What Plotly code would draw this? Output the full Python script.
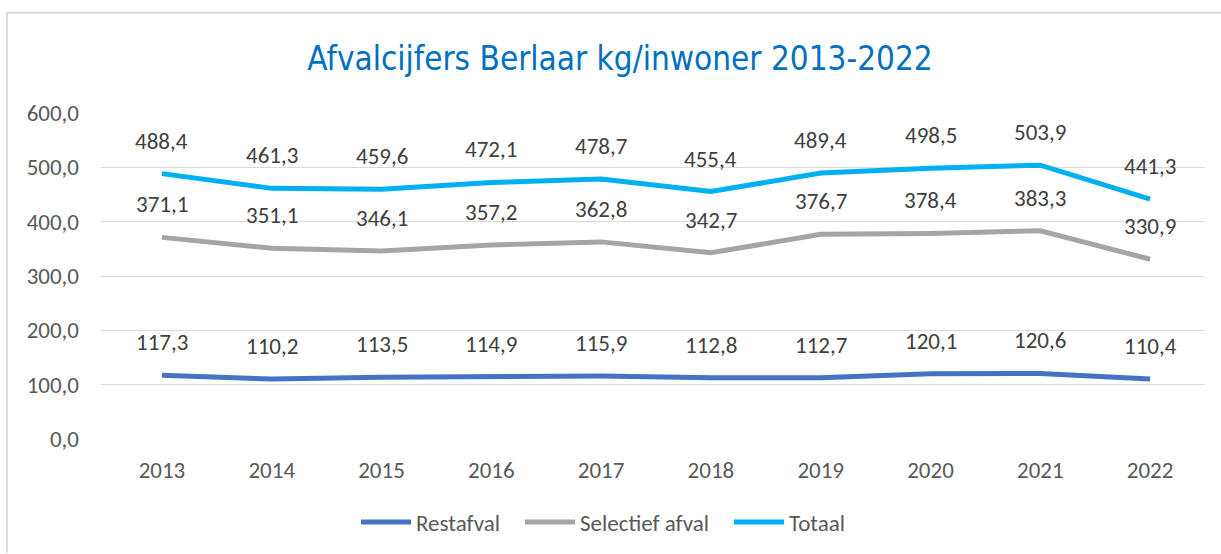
import plotly.graph_objects as go

years = ["2013", "2014", "2015", "2016", "2017", "2018", "2019", "2020", "2021", "2022"]
restafval = [117.3, 110.2, 113.5, 114.9, 115.9, 112.8, 112.7, 120.1, 120.6, 110.4]
selectief = [371.1, 351.1, 346.1, 357.2, 362.8, 342.7, 376.7, 378.4, 383.3, 330.9]
totaal = [488.4, 461.3, 459.6, 472.1, 478.7, 455.4, 489.4, 498.5, 503.9, 441.3]

series = [
    ("Restafval", restafval, "#4472C4"),
    ("Selectief afval", selectief, "#A5A5A5"),
    ("Totaal", totaal, "#00B0F0"),
]

W, H = 1221, 554
L, R, T, B = 101, 16, 113, 114
pw, ph = W - L - R, H - T - B
FONT = "Carlito, Calibri, Lato, Liberation Sans, sans-serif"

legend_names = ["legend", "legend2", "legend3"]
legend_starts = [366, 530, 739]  # pixel x where each legend line begins

fig = go.Figure()
for (name, vals, col), lg in zip(series, legend_names):
    fig.add_trace(go.Scatter(
        x=years, y=vals, name=name, mode="lines", legend=lg,
        line=dict(color=col, width=5, shape="linear"),
    ))
    for i, v in enumerate(vals):
        fig.add_annotation(
            x=i, y=v, xref="x", yref="y", text=f"{v:.1f}".replace(".", ","),
            showarrow=False, yshift=33, yanchor="middle", xanchor="center",
            font=dict(family=FONT, size=23, color="#404040"),
        )

# chart area border (top and left)
fig.add_shape(type="line", xref="paper", yref="paper",
              x0=(7 - L) / pw, x1=(W - L) / pw,
              y0=(H - B - 12.5) / ph, y1=(H - B - 12.5) / ph,
              line=dict(color="#D9D9D9", width=2), layer="below")
fig.add_shape(type="line", xref="paper", yref="paper",
              x0=(7 - L) / pw, x1=(7 - L) / pw,
              y0=(H - B - 12.5) / ph, y1=(H - B - H) / ph,
              line=dict(color="#D9D9D9", width=2), layer="below")

legend_common = dict(
    orientation="h", yanchor="middle", y=-(522 - (H - B)) / ph, xanchor="left",
    font=dict(family=FONT, size=23, color="#595959"),
    itemwidth=50, bgcolor="rgba(0,0,0,0)", borderwidth=0,
)
legends = {}
for lg, sx in zip(legend_names, legend_starts):
    legends[lg] = dict(legend_common, x=(sx - L - 10) / pw)

fig.update_layout(
    width=W, height=H,
    margin=dict(l=L, r=R, t=T, b=B, pad=0),
    paper_bgcolor="white", plot_bgcolor="white",
    separators=",.",
    title=dict(
        text="Afvalcijfers Berlaar kg/inwoner 2013-2022",
        x=620 / W, xanchor="center", y=1 - 58 / H, yanchor="middle",
        font=dict(family="DejaVu Sans Condensed, Liberation Sans Narrow, Roboto, sans-serif",
                  size=33, color="#0070C0", weight=500),
    ),
    xaxis=dict(
        type="category", range=[-0.555, 9.5],
        showgrid=False, zeroline=False, showline=False,
        ticks="", ticklabelstandoff=15,
        tickfont=dict(family=FONT, size=23, color="#595959"),
        fixedrange=True,
    ),
    yaxis=dict(
        range=[0, 600], dtick=100, tickformat=".1f",
        showgrid=True, gridcolor="#D9D9D9", gridwidth=1.3,
        zeroline=False, showline=False, ticks="", ticklabelstandoff=21,
        tickfont=dict(family=FONT, size=23, color="#595959"),
        fixedrange=True,
    ),
    showlegend=True,
    **legends,
)

fig.write_html("out.html", post_script="document.body.style.margin='0';",
               config={"displayModeBar": False})
